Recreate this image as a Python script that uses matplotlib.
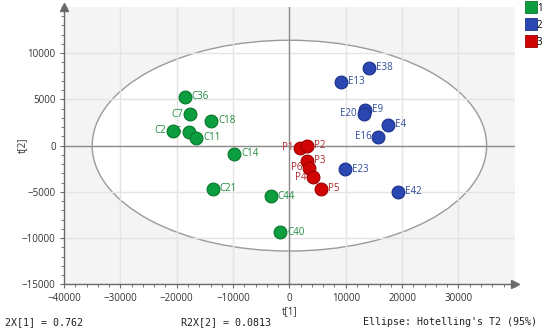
import matplotlib.pyplot as plt
from matplotlib.patches import Ellipse
from matplotlib.lines import Line2D
from matplotlib.ticker import MultipleLocator

# score values t[1], t[2]
c_names = ['C36', 'C7', 'C18', 'C2', 'C5', 'C11', 'C14', 'C21', 'C44', 'C40']
c_t1 = [-18600, -17600, -13900, -20600, -17800, -16500, -9800, -13600, -3300, -1650]
c_t2 = [5270, 3400, 2710, 1620, 1520, 870, -900, -4650, -5500, -9370]

e_names = ['E38', 'E13', 'E9', 'E20', 'E4', 'E16', 'E23', 'E42']
e_t1 = [14200, 9100, 13350, 13200, 17500, 15750, 9850, 19200]
e_t2 = [8400, 6930, 3860, 3430, 2270, 970, -2560, -4980]

p_names = ['P1', 'P2', 'P3', 'P6', 'P4', 'P5']
p_t1 = [1900, 3100, 3200, 3550, 4250, 5600]
p_t2 = [-250, -30, -1620, -2410, -3420, -4650]

left_labels = ['C7', 'C2', 'C5', 'E20', 'E16', 'P1', 'P6', 'P4']

groups = ['1', '2', '3']
fills = ['#0c9e3e', '#2b48b2', '#d10404']
edges = ['#07762c', '#1b318a', '#9c0000']
text_cols = ['#1f8a3e', '#2f4c9a', '#b0282c']

fig = plt.figure(figsize=(5.5, 3.31), dpi=100)
ax = fig.add_axes([0.1164, 0.141, 0.8196, 0.838])
ax.set_facecolor('#f4f4f4')

# Hotelling's T2 ellipse
ell = Ellipse((0, 0), 70000, 22800, facecolor='white', edgecolor='#9a9a9a',
              lw=1, zorder=0.2)
ax.add_patch(ell)

ax.set_xlim(-40000, 40000)
ax.set_ylim(-15000, 15000)
ax.xaxis.set_major_locator(MultipleLocator(10000))
ax.xaxis.set_minor_locator(MultipleLocator(2000))
ax.yaxis.set_major_locator(MultipleLocator(5000))
ax.yaxis.set_minor_locator(MultipleLocator(1000))
ax.set_yticks([-15000, -10000, -5000, 0, 5000, 10000])
ax.set_xticks([-40000, -30000, -20000, -10000, 0, 10000, 20000, 30000])
ax.set_axisbelow(True)
ax.grid(True, which='major', color='#e4e4e4', lw=1)

ax.axhline(0, color='#8c8c8c', lw=1, zorder=1)
ax.axvline(0, color='#8c8c8c', lw=1, zorder=1)

for s in ['top', 'right']:
    ax.spines[s].set_visible(False)
for s in ['left', 'bottom']:
    ax.spines[s].set_color('#6a6a6a')
    ax.spines[s].set_linewidth(1)
ax.plot(0, 1, marker='^', color='#6a6a6a', markersize=6, transform=ax.transAxes, clip_on=False)
ax.plot(1, 0, marker='>', color='#6a6a6a', markersize=6, transform=ax.transAxes, clip_on=False)

ax.tick_params(which='major', length=3, width=0.8, color='#6a6a6a', labelsize=7, pad=3,
               labelcolor='#333333')
ax.tick_params(which='minor', length=2, width=0.6, color='#6a6a6a')
for lab in ax.get_xticklabels() + ax.get_yticklabels():
    lab.set_family('Open Sans')

data = [(c_names, c_t1, c_t2), (e_names, e_t1, e_t2), (p_names, p_t1, p_t2)]
for i, (names, xs, ys) in enumerate(data):
    ax.scatter(xs, ys, s=85, color=fills[i], edgecolor=edges[i], lw=0.8, zorder=3)
    for n, x, y in zip(names, xs, ys):
        if n in left_labels:
            ax.annotate(n, (x, y), xytext=(-5, 0), textcoords='offset points', ha='right',
                        va='center', fontsize=7, color=text_cols[i], family='Open Sans', zorder=2.8)
        else:
            ax.annotate(n, (x, y), xytext=(5, 0), textcoords='offset points', ha='left',
                        va='center', fontsize=7, color=text_cols[i], family='Open Sans', zorder=2.8)

fig.text(290 / 550, 1 - 311.5 / 331, 't[1]', ha='center', va='center', fontsize=7,
         family='Open Sans', color='#333333')
fig.text(22 / 550, 1 - 145 / 331, 't[2]', ha='center', va='center', rotation=90, fontsize=7,
         family='Open Sans', color='#333333')

handles = [Line2D([], [], marker='s', ls='', markersize=9, markerfacecolor=fills[i],
                  markeredgecolor=edges[i], markeredgewidth=0.6) for i in range(3)]
fig.legend(handles, groups, loc='upper left', bbox_to_anchor=(519 / 550, 1.012), frameon=False,
           handlelength=1, handletextpad=0.15, labelspacing=0.6, borderpad=0.2,
           prop={'family': 'Open Sans', 'size': 7})

mono = 'DejaVu Sans Mono'
fig.text(5 / 550, 1 - 322 / 331, '2X[1] = 0.762', ha='left', va='center', fontsize=7.2,
         family=mono, color='#222222')
fig.text(181 / 550, 1 - 322 / 331, 'R2X[2] = 0.0813', ha='left', va='center', fontsize=7.2,
         family=mono, color='#222222')
fig.text(363 / 550, 1 - 322 / 331, "Ellipse: Hotelling's T2 (95%)", ha='left', va='center',
         fontsize=7.2, family=mono, color='#222222')

fig.savefig('out.png', dpi=100)
